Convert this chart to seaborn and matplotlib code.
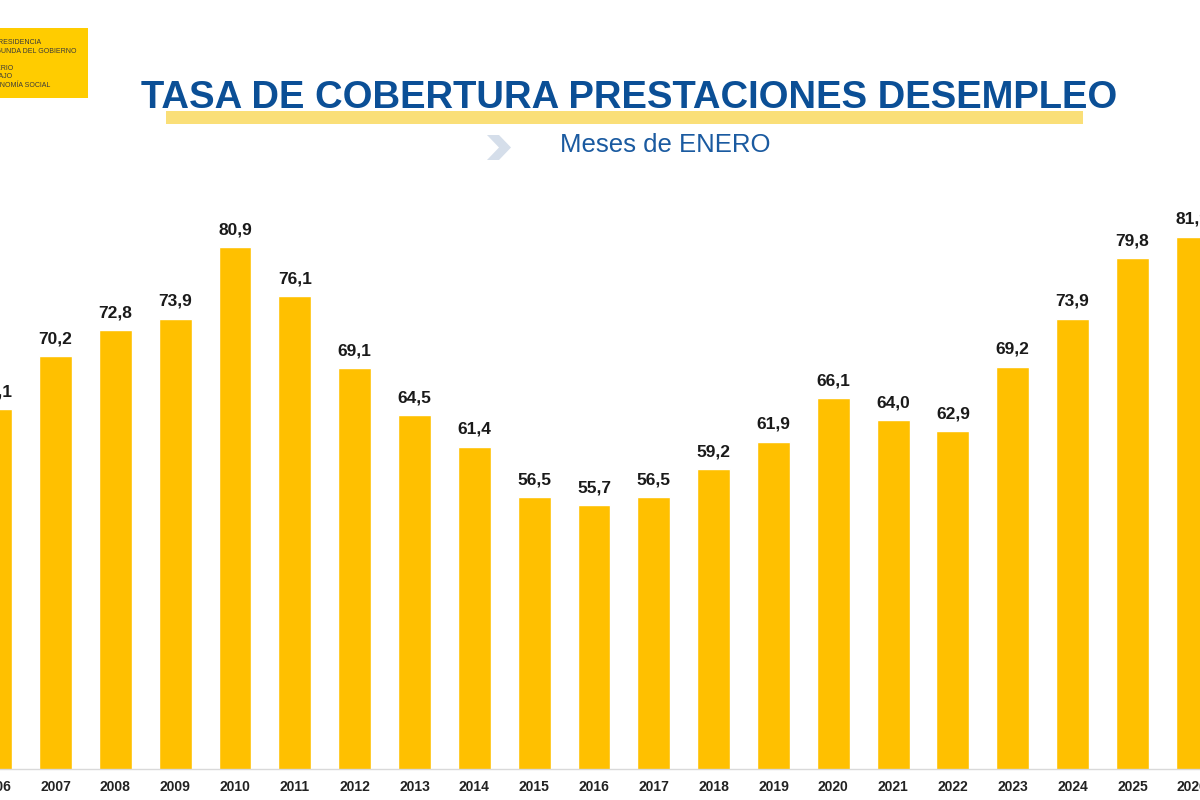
import matplotlib
matplotlib.use("Agg")
import matplotlib.pyplot as plt
import seaborn as sns
import pandas as pd
from matplotlib.patches import Rectangle, Polygon

years = [str(y) for y in range(2006, 2027)]
values = [65.1, 70.2, 72.8, 73.9, 80.9, 76.1, 69.1, 64.5, 61.4, 56.5, 55.7,
          56.5, 59.2, 61.9, 66.1, 64.0, 62.9, 69.2, 73.9, 79.8, 81.9]
title = "TASA DE COBERTURA PRESTACIONES DESEMPLEO"
subtitle = "Meses de ENERO"
logo_lines = ["VICEPRESIDENCIA", "SEGUNDA DEL GOBIERNO", "MINISTERIO", "DE TRABAJO", "Y ECONOMÍA SOCIAL"]

sns.set_theme(style="white")
plt.rcParams["font.family"] = ["Liberation Sans", "DejaVu Sans"]

W, H = 1200, 800
fig = plt.figure(figsize=(12, 8), dpi=100)
fig.patch.set_facecolor("white")

def fx(px):
    return px / W

def fy(py):
    return 1 - py / H

# axes geometry (pixels)
step = 59.83
left_px = 55.5 - 1.5 * step
ax = fig.add_axes([fx(left_px), 31.5 / H, (21 * step) / W, (646.5 - 31.5) / H])

df = pd.DataFrame({"year": years, "value": values})
sns.barplot(data=df, x="year", y="value", color="#FFC000", saturation=1,
            width=0.55, ax=ax)
ax.set_xlim(-0.5, 20.5)
ax.set_ylim(30, 90)
ax.set_xlabel("")
ax.set_ylabel("")
ax.set_yticks([])
for s in ["left", "right", "top"]:
    ax.spines[s].set_visible(False)
ax.spines["bottom"].set_color("#d9d9d9")
ax.spines["bottom"].set_linewidth(1.0)
ax.tick_params(axis="x", length=0, pad=8, labelsize=10, labelcolor="#222222")
for lab in ax.get_xticklabels():
    lab.set_fontweight("bold")

for i, v in enumerate(values):
    ax.annotate(f"{v:.1f}".replace(".", ","), (i, v), xytext=(0, 7),
                textcoords="offset points", ha="center", va="bottom",
                fontsize=12.5, fontweight="bold", color="#1a1a1a",
                annotation_clip=False)

# title highlight band
fig.patches.append(Rectangle((fx(166), fy(124)), fx(1083 - 166), (124 - 111) / H,
                             transform=fig.transFigure, facecolor="#FADF78",
                             edgecolor="none", zorder=1))
fig.text(fx(629), fy(108), title, ha="center", va="baseline", fontsize=27.5,
         fontweight="bold", color="#0B4F96", zorder=3)
fig.text(fx(665), fy(152), subtitle, ha="center", va="baseline", fontsize=18.5,
         color="#1A5AA0", zorder=3)

# chevron
chev = [(487, 135), (499, 135), (511, 147.5), (499, 160), (487, 160), (499, 147.5)]
fig.patches.append(Polygon([(fx(x), fy(y)) for x, y in chev], closed=True,
                           transform=fig.transFigure, facecolor="#D5DEEA",
                           edgecolor="none"))

# logo block
fig.patches.append(Rectangle((fx(0), fy(98)), fx(88), 70 / H,
                             transform=fig.transFigure, facecolor="#FFCC00",
                             edgecolor="none"))
logo_pos = [(42, 44), (76, 53), (14, 70), (12, 78), (50, 87)]
for (x, y), t in zip(logo_pos, logo_lines):
    fig.text(fx(x), fy(y), t, ha="right", va="baseline", fontsize=5,
             color="#3a3a3a")

fig.savefig("out.png", dpi=100)
